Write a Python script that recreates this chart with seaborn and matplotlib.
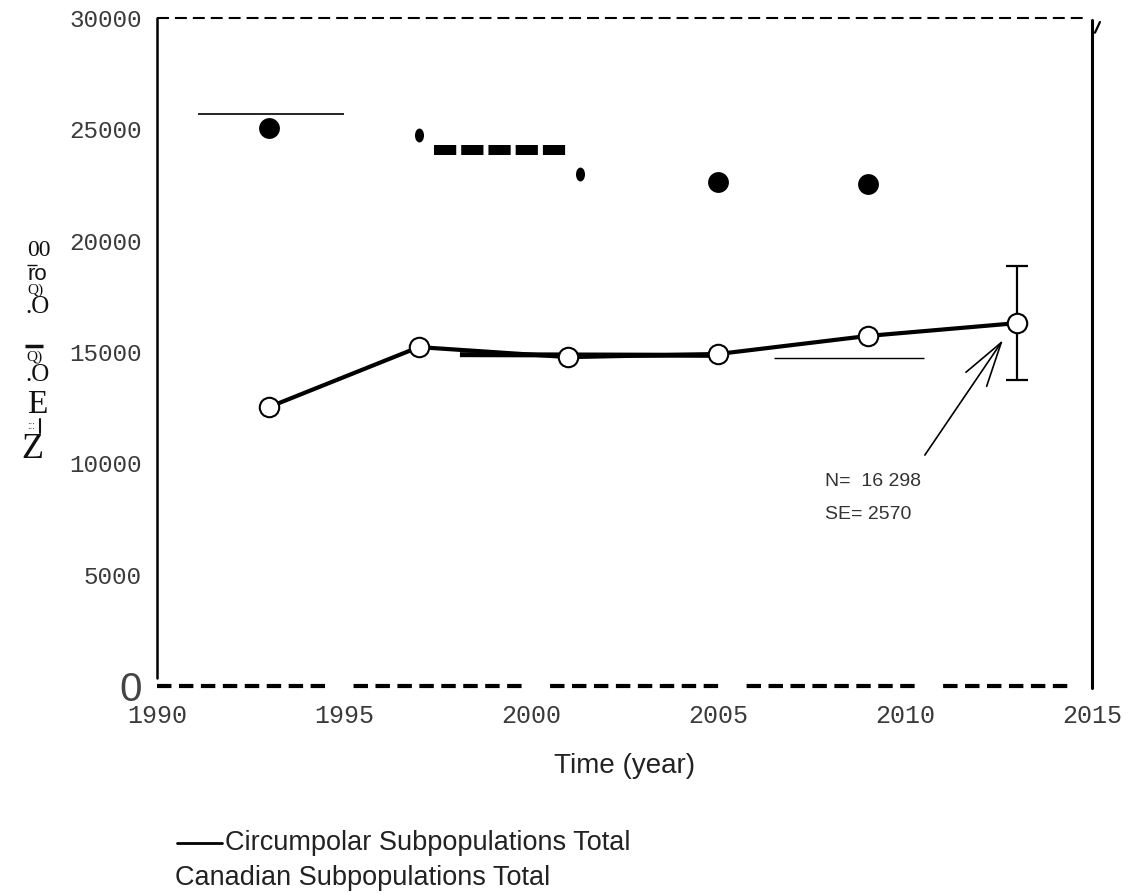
import matplotlib
matplotlib.use("Agg")
import matplotlib.pyplot as plt
from matplotlib.lines import Line2D
from matplotlib.path import Path
import pandas as pd
import seaborn as sns

# ---- data -------------------------------------------------------------
# Circumpolar subpopulations total (open circles joined by a line)
years_total = [1993, 1997, 2001, 2005, 2009, 2013]
n_total = [12530, 15220, 14770, 14910, 15720, 16298]
se_last = 2570

# Filled circle estimates
years_filled = [1993, 2005, 2009]
n_filled = [25050, 22630, 22560]

# Small filled ellipses
years_small = [1997, 2001.3]
n_small = [24740, 22990]

# Horizontal range bars
top_bar_x, top_bar_y = [1991.1, 1995.0], [25690, 25690]
dash_bar_x, dash_bar_y = [1997.4, 2001.0], [24070, 24070]
mid_bar_x, mid_bar_y = [1998.1, 2004.95], [14880, 14850]
right_bar_x, right_bar_y = [2006.5, 2010.5], [14730, 14730]

# Annotation arrow (tail -> tip)
arrow_tail = (2010.53, 10370)
arrow_tip = (2012.62, 15540)

x_ticks = [1990, 1995, 2000, 2005, 2010, 2015]
y_ticks = [0, 5000, 10000, 15000, 20000, 25000, 30000]

# Fragments of the vertical axis title, top to bottom
ylabel_parts = ["00", "ro", "Q)", ".O", "Q)", ".O", "E", ":::", "Z"]

# ---- style ------------------------------------------------------------
sns.set_style("white")
plt.rcParams["font.family"] = ["Liberation Sans", "DejaVu Sans"]
plt.rcParams["lines.scale_dashes"] = False

W, H = 1132, 894
fig = plt.figure(figsize=(W / 100, H / 100), dpi=100)
ax = fig.add_axes([157 / W, 1 - 686 / H, 935 / W, 668 / H])
ax.set_xlim(1990, 2015)
ax.set_ylim(0, 30000)

df_total = pd.DataFrame({"year": years_total, "n": n_total})
df_filled = pd.DataFrame({"year": years_filled, "n": n_filled})

# range bars
ax.plot(top_bar_x, top_bar_y, color="black", lw=1.2, solid_capstyle="butt")
ax.plot(dash_bar_x, dash_bar_y, color="black", lw=7.2,
        linestyle=(0, (16, 3.6)), dash_capstyle="butt")
ax.plot(mid_bar_x, mid_bar_y, color="black", lw=3.6, solid_capstyle="butt")
ax.plot(right_bar_x, right_bar_y, color="black", lw=1.0, solid_capstyle="butt")

# error bar on the last survey
ax.errorbar([years_total[-1]], [n_total[-1]], yerr=[se_last], fmt="none",
            ecolor="black", elinewidth=1.6, capsize=8, capthick=1.6, zorder=3)

# circumpolar total
sns.lineplot(data=df_total, x="year", y="n", ax=ax, color="black", lw=3,
             marker="o", markersize=14, markerfacecolor="white",
             markeredgecolor="black", markeredgewidth=1.5, zorder=4)

# filled circle estimates
sns.scatterplot(data=df_filled, x="year", y="n", ax=ax, color="black",
                s=225, edgecolor="black", linewidth=0, zorder=4)

# small ellipses
circ = Path.unit_circle()
ellipse = Path(circ.vertices * [0.65, 1.0], circ.codes)
ax.scatter(years_small, n_small, marker=ellipse, s=100, color="black",
           linewidths=0, zorder=4)

# annotation arrow and text
ax.annotate("", xy=arrow_tip, xytext=arrow_tail,
            arrowprops=dict(arrowstyle="->,head_length=1.6,head_width=0.45",
                            mutation_scale=20, lw=1.2, color="black",
                            shrinkA=0, shrinkB=0))
ax.text(2007.85, 9200, "N=  16 298", fontsize=14, color="#333333",
        va="center", ha="left")
ax.text(2007.85, 7700, "SE= 2570", fontsize=14, color="#333333",
        va="center", ha="left")

# ---- axes frame -------------------------------------------------------
for s in ax.spines.values():
    s.set_visible(False)
frame = dict(transform=ax.transAxes, clip_on=False, color="black")
ax.plot([0, 0.993], [1, 1], lw=1.5, linestyle=(0, (8.6, 4.3)), **frame)
ax.plot([0, 0.979], [0, 0], lw=3,
        linestyle=(0, (10.4, 5.4) * 7 + (10.4, 20.5)), dash_capstyle="butt",
        **frame)
ax.plot([0, 0], [0.012, 1.0], lw=1.8, **frame)
ax.plot([1.0, 1.0], [-0.003, 0.997], lw=2.2, **frame)
ax.plot([1.0032, 1.0085], [0.978, 0.994], lw=1.6, **frame)

# ---- ticks ------------------------------------------------------------
ax.set_xticks(x_ticks)
ax.set_xticklabels([str(v) for v in x_ticks], family="Liberation Mono",
                   fontsize=18, color="#3a3a3a")
ax.set_yticks(y_ticks)
ax.set_yticklabels([str(v) for v in y_ticks], family="Liberation Mono",
                   fontsize=17.5, color="#3a3a3a")
ax.tick_params(axis="both", length=0)
ax.tick_params(axis="x", pad=13)
ax.tick_params(axis="y", pad=11)
zero = ax.get_yticklabels()[0]
zero.set_family(["Liberation Sans Narrow", "Liberation Sans"])
zero.set_fontsize(29)
zero.set_color("#444444")

ax.set_xlabel("Time (year)", fontsize=20, color="#222222", labelpad=18)
ax.set_ylabel("")

# vertical axis title fragments (figure pixel positions)
ylabel_pos = [(39, 251, 17, "serif"), (37, 275, 16, "sans"),
              (35, 290, 11, "serif"), (37, 307, 18, "serif"),
              (34, 357, 11, "serif"), (37, 375, 18, "serif"),
              (37, 405, 24, "serif"), (31, 426, 7, "sans"),
              (32, 449, 26, "serif")]
for txt, (px, py, fs, kind) in zip(ylabel_parts, ylabel_pos):
    fam = ["Liberation Serif", "DejaVu Serif"] if kind == "serif" else ["Liberation Sans", "DejaVu Sans"]
    fig.text(px / W, 1 - py / H, txt, ha="center", va="center",
             fontsize=fs, family=fam, color="#111111")
# small strokes between the title fragments
for (x0, x1, y, lw) in [(27, 37, 265, 1.0), (25, 43, 346, 2.5)]:
    fig.add_artist(Line2D([x0 / W, x1 / W], [1 - y / H, 1 - y / H],
                          color="#111111", lw=lw, solid_capstyle="butt"))
fig.add_artist(Line2D([40 / W, 40 / W], [1 - 419 / H, 1 - 433 / H],
                      color="#111111", lw=1.5))

# ---- legend -----------------------------------------------------------
fig.add_artist(Line2D([177 / W, 222 / W], [1 - 843 / H, 1 - 843 / H],
                      color="black", lw=2))
fig.text(225 / W, 1 - 843 / H, "Circumpolar Subpopulations Total",
         fontsize=19.5, color="#222222", va="center", ha="left")
fig.text(175 / W, 1 - 878 / H, "Canadian Subpopulations Total",
         fontsize=19.5, color="#222222", va="center", ha="left")

fig.savefig("out.png", dpi=100)
